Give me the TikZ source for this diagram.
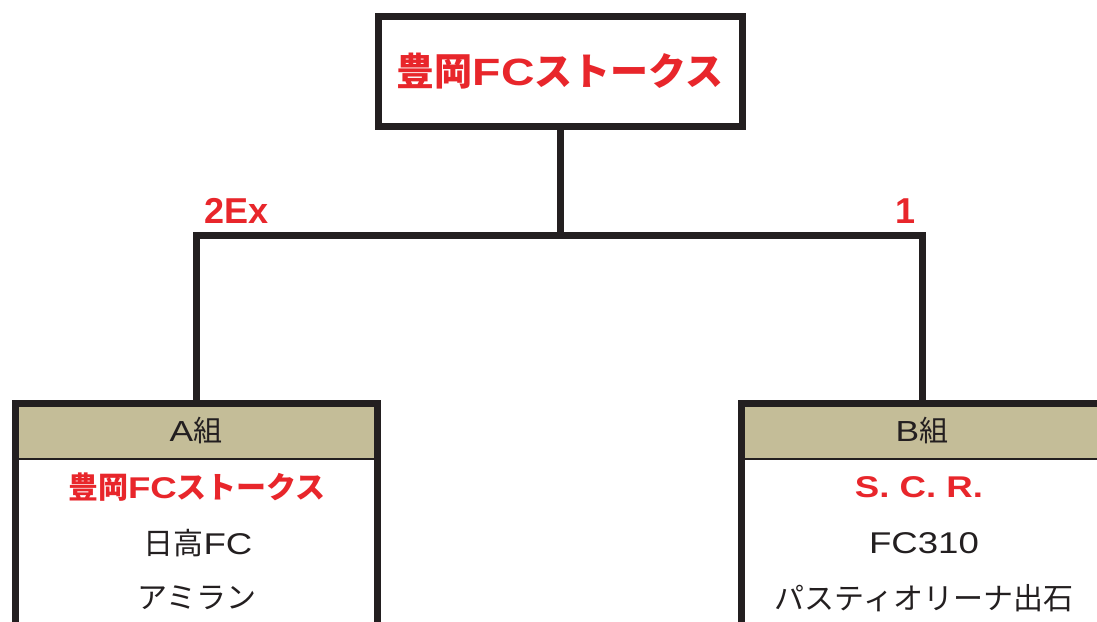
\documentclass[tikz,border=0pt]{standalone}
\usepackage{fontspec}
\setmainfont{Noto Sans CJK JP}
\newfontfamily\lat[FakeStretch=1.22]{Liberation Sans}
\newfontfamily\latn{Liberation Sans}
\definecolor{lbred}{HTML}{E8262B}
\definecolor{hdr}{HTML}{C4BD98}
\definecolor{ink}{HTML}{231F20}
\begin{document}
\begin{tikzpicture}[x=1pt,y=-1pt,
  frame/.style={draw=ink,line width=7pt,line join=miter},
  hdrbox/.style={fill=hdr,minimum width=362pt,minimum height=56pt,inner sep=0pt,
     font=\fontsize{29}{29}\selectfont,text=ink},
  win/.style={text=lbred,font=\bfseries\fontsize{30}{30}\selectfont,inner sep=0pt},
  team/.style={text=ink,font=\fontsize{30}{30}\selectfont,inner sep=0pt},
  score/.style={text=lbred,font=\latn\bfseries\fontsize{36}{36}\selectfont,inner sep=0pt}]
\useasboundingbox (0,0) rectangle (1097,621);
\clip (0,0) rectangle (1097,621);
\fill[white] (0,0) rectangle (1097,621);
% top box
\node[frame,fill=white,minimum width=364pt,minimum height=110pt,inner sep=0pt,
  text=lbred,font=\bfseries\fontsize{38}{38}\selectfont] (top) at (560,71) {豊岡{\lat FC}ストークス};
% headers
\node[hdrbox] (hA) at (196,431) {{\lat A}組};
\node[hdrbox] (hB) at (922,431) {{\lat B}組};
% box frames
\draw[frame] (15,640) -- (15,403) -- (377,403) -- (377,640);
\draw[frame] (741,640) -- (741,403) -- (1110,403);
\draw[ink,line width=1.5pt] (15,459) -- (377,459);
\draw[ink,line width=1.5pt] (741,459) -- (1100,459);
% connectors
\coordinate (j) at (560,235);
\draw[frame] (top.south) -- (j);
\draw[frame] (hA.north) |- (j) -| (hB.north);
% scores
\node[score,anchor=base west] (sA) at (204,223) {2Ex};
\node[score,anchor=base] (sB) at (905,223) {1};
% teams
\node[win] (a1) at (197,487) {豊岡{\lat FC}ストークス};
\node[team] (a2) at (198,543) {日高{\lat FC}};
\node[team] (a3) at (197,598) {アミラン};
\node[win] (b1) at (919,487) {{\lat S.\ C.\ R.}};
\node[team] (b2) at (924,543) {{\lat FC310}};
\node[team] (b3) at (924,598) {パスティオリーナ出石};
\end{tikzpicture}
\end{document}
